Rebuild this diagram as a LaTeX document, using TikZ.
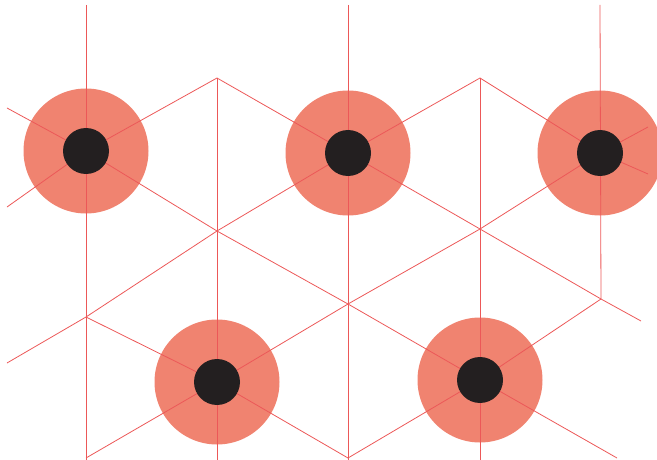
\documentclass[tikz,border=0pt]{standalone}
\usetikzlibrary{calc}
\definecolor{gridred}{RGB}{236,88,88}
\definecolor{salmon}{RGB}{240,131,112}
\definecolor{dot}{RGB}{35,31,32}
\begin{document}
\begin{tikzpicture}[x=1pt,y=-1pt,
  gridline/.style={draw=gridred,line width=0.8pt},
  outerdisc/.style={fill=salmon},
  innerdisc/.style={fill=dot}]
\useasboundingbox (0,0) rectangle (657,460);
% lattice points
\coordinate (Q1) at (217,78);
\coordinate (Q2) at (480,78);
\coordinate (P1) at (86,151);
\coordinate (P2) at (348,153);
\coordinate (P3) at (600,153);
\coordinate (M1) at (217,231);
\coordinate (M2) at (480,229);
\coordinate (L1) at (86,317);
\coordinate (L2) at (348,304);
\coordinate (L3) at (601,299);
\coordinate (B1) at (217,382);
\coordinate (B2) at (480,380);
% free ends
\coordinate (e1) at (7,108);
\coordinate (e2) at (7,207);
\coordinate (e3) at (7,363);
\coordinate (e4) at (648,127);
\coordinate (e5) at (648,174);
\coordinate (e6) at (641,321);
\coordinate (e7) at (617,458);
\coordinate (t1) at (86,5);
\coordinate (t3) at (348,5);
\coordinate (t5) at (600,5);
\coordinate (b1) at (86,460);
\coordinate (b2) at (217,460);
\coordinate (b3) at (348,460);
\coordinate (b4) at (480,460);
\coordinate (d1) at (86,458);
\coordinate (d3) at (348,458);
% outer discs
\foreach \c in {P1,P2,P3,B1,B2} \fill[outerdisc] (\c) circle (62.5);
% grid lines
\draw[gridline] (t1) -- (b1);
\draw[gridline] (Q1) -- (b2);
\draw[gridline] (t3) -- (b3);
\draw[gridline] (Q2) -- (b4);
\draw[gridline] (t5) -- (L3);
\draw[gridline] (e1) -- (P1) -- (M1) -- (L2) -- (B2) -- (e7);
\draw[gridline] (e2) -- (P1) -- (Q1) -- (P2) -- (Q2) -- (P3) -- (e4);
\draw[gridline] (P3) -- (e5);
\draw[gridline] (e3) -- (L1) -- (M1) -- (P2);
\draw[gridline] (P2) -- (M2) -- (L3) -- (e6);
\draw[gridline] (P3) -- (M2) -- (L2) -- (B1) -- (d1);
\draw[gridline] (L1) -- (B1) -- (d3);
\draw[gridline] (L3) -- (B2) -- (d3);
% inner discs
\foreach \c in {P1,P2,P3,B1,B2} \fill[innerdisc] (\c) circle (23);
\end{tikzpicture}
\end{document}
